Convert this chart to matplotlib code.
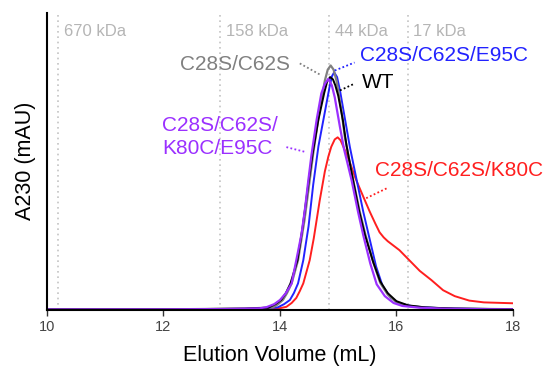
import matplotlib
matplotlib.use("Agg")
import matplotlib.pyplot as plt

plt.rcParams['font.family'] = ['Liberation Sans', 'DejaVu Sans']

# size standards (elution volume, label)
std_vol = [10.19, 12.97, 14.84, 16.19]
std_lab = ['670 kDa', '158 kDa', '44 kDa', '17 kDa']

# traces (mL, A230 arbitrary)
vol_red = [10.0, 12.0, 13.5, 13.94, 14.11, 14.20, 14.28, 14.34, 14.40, 14.51, 14.58, 14.68, 14.77,
           14.83, 14.88, 14.94, 14.99, 15.04, 15.08, 15.14, 15.20, 15.30, 15.43, 15.54, 15.64,
           15.71, 15.78, 15.85, 15.95, 16.05, 16.20, 16.40, 16.60, 16.80, 17.00, 17.25, 17.50, 18.0]
a230_red = [0.0, 0.02, 0.05, 0.2, 0.9, 2.2, 3.9, 6.2, 8.8, 16.6, 24.0, 36.5, 46.5,
            51.5, 54.8, 57.3, 58.0, 57.0, 55.2, 52.5, 49.5, 44.0, 38.0, 33.0, 28.8,
            26.0, 24.3, 23.0, 21.5, 20.0, 17.0, 13.0, 9.9, 6.5, 4.5, 3.0, 2.4, 2.1]

vol_blue = [10.0, 12.0, 13.5, 13.96, 14.07, 14.17, 14.24, 14.31, 14.40, 14.49, 14.57, 14.66, 14.77,
            14.85, 14.89, 14.93, 14.98, 15.03, 15.11, 15.20, 15.31, 15.43, 15.53, 15.65, 15.76,
            15.90, 16.05, 16.30, 16.70, 17.20, 18.0]
a230_blue = [0.0, 0.03, 0.15, 0.7, 1.8, 3.2, 5.6, 8.8, 16.6, 28.0, 42.0, 55.0, 66.5,
             74.9, 78.5, 79.9, 78.3, 73.8, 64.8, 54.7, 44.2, 32.9, 24.5, 14.5, 8.0,
             4.0, 2.0, 1.0, 0.5, 0.25, 0.1]

vol_gray = [10.0, 12.0, 13.4, 13.88, 13.96, 14.05, 14.12, 14.20, 14.31, 14.42, 14.51, 14.57, 14.68,
            14.77, 14.82, 14.87, 14.92, 14.97, 15.055, 15.11, 15.25, 15.37, 15.47, 15.60, 15.72,
            15.85, 16.0, 16.2, 16.5, 17.0, 18.0]
a230_gray = [0.0, 0.05, 0.3, 0.7, 1.7, 3.2, 5.5, 8.8, 16.6, 30.0, 43.5, 52.5, 67.1,
             77.1, 80.8, 82.2, 80.8, 77.1, 67.1, 58.5, 44.2, 32.9, 25.0, 16.0, 9.0,
             5.0, 2.4, 1.2, 0.6, 0.3, 0.1]

vol_wt = [10.0, 12.0, 13.4, 13.80, 13.92, 14.02, 14.10, 14.18, 14.30, 14.39, 14.50, 14.56, 14.66,
          14.76, 14.81, 14.86, 14.91, 14.95, 15.00, 15.08, 15.14, 15.25, 15.36, 15.46, 15.60,
          15.72, 15.85, 16.0, 16.2, 16.5, 17.0, 18.0]
a230_wt = [0.0, 0.05, 0.3, 0.6, 1.8, 3.2, 5.5, 8.8, 16.6, 28.0, 44.2, 52.5, 64.0,
           73.0, 76.8, 78.3, 77.5, 75.5, 72.0, 63.7, 55.5, 44.0, 33.0, 25.0, 16.0,
           9.5, 5.5, 2.8, 1.4, 0.7, 0.3, 0.1]

vol_purple = [10.0, 12.0, 13.0, 13.4, 13.65, 13.77, 13.90, 14.0, 14.10, 14.2, 14.28, 14.37, 14.43,
              14.48, 14.54, 14.63, 14.71, 14.77, 14.83, 14.89, 14.94, 15.03, 15.10, 15.23, 15.34,
              15.43, 15.55, 15.66, 15.80, 15.95, 16.1, 16.4, 16.8, 17.5, 18.0]
a230_purple = [0.0, 0.05, 0.15, 0.3, 0.4, 0.8, 1.8, 3.2, 5.5, 8.8, 16.6, 25.5, 34.0,
               42.5, 52.0, 64.0, 72.8, 76.0, 77.7, 75.5, 71.5, 61.4, 54.0, 43.5, 32.9,
               25.0, 15.5, 8.5, 4.5, 2.2, 1.2, 0.6, 0.3, 0.1, 0.05]

c_red = '#ff1f1f'
c_blue = '#2222ff'
c_gray = '#808080'
c_black = '#000000'
c_purple = '#9b30ff'

fig = plt.figure(figsize=(5.49, 3.72), dpi=100)
ax = fig.add_axes([0.0856, 0.168, 0.8488, 0.798])

for v in std_vol:
    ax.axvline(v, color='#c4c4c4', linestyle=(0, (1, 2.2)), lw=1.2, zorder=0)
for v, lab in zip(std_vol, std_lab):
    ax.text(v + 0.1, 93.6, lab, color='#b5b5b5', fontsize=12, va='center', ha='left')

ax.plot(vol_red, a230_red, color=c_red, lw=1.4)
ax.plot(vol_blue, a230_blue, color=c_blue, lw=1.4)
ax.plot(vol_gray, a230_gray, color=c_gray, lw=1.6)
ax.plot(vol_wt, a230_wt, color=c_black, lw=1.4)
ax.plot(vol_purple, a230_purple, color=c_purple, lw=1.6)

# labels with dotted leaders
dot = (0, (1, 1.3))
ax.text(14.17, 82.5, 'C28S/C62S', color=c_gray, fontsize=15, ha='right', va='center')
ax.plot([14.34, 14.68], [82.9, 79.2], color=c_gray, lw=1.3, linestyle=dot)

ax.text(15.38, 85.5, 'C28S/C62S/E95C', color=c_blue, fontsize=15, ha='left', va='center',
        clip_on=False)
ax.plot([14.94, 15.28], [80.5, 83.2], color=c_blue, lw=1.3, linestyle=dot)

ax.text(15.40, 76.5, 'WT', color=c_black, fontsize=15, ha='left', va='center')
ax.plot([15.03, 15.28], [73.8, 76.1], color=c_black, lw=1.3, linestyle=dot)

ax.text(11.98, 58.0, 'C28S/C62S/\nK80C/E95C', color=c_purple, fontsize=15, ha='left',
        va='center', linespacing=1.25)
ax.plot([14.11, 14.45], [54.7, 53.0], color=c_purple, lw=1.3, linestyle=dot)

ax.text(15.63, 46.9, 'C28S/C62S/K80C', color=c_red, fontsize=15, ha='left', va='center',
        clip_on=False)
ax.plot([15.48, 15.83], [37.5, 40.8], color=c_red, lw=1.3, linestyle=dot)

ax.set_xlim(10, 18)
ax.set_ylim(0, 100)
ax.set_xticks([10, 12, 14, 16, 18])
ax.set_yticks([])
ax.spines['top'].set_visible(False)
ax.spines['right'].set_visible(False)
ax.spines['left'].set_linewidth(1.5)
ax.spines['bottom'].set_linewidth(1.5)
ax.tick_params(axis='x', labelsize=10.5, labelcolor='#444444', color='#333333', length=4, width=1)
ax.set_xlabel('Elution Volume (mL)', fontsize=15.5, labelpad=8)
ax.set_ylabel('A230 (mAU)', fontsize=15.5, labelpad=8)

fig.savefig('out.png', dpi=100)
